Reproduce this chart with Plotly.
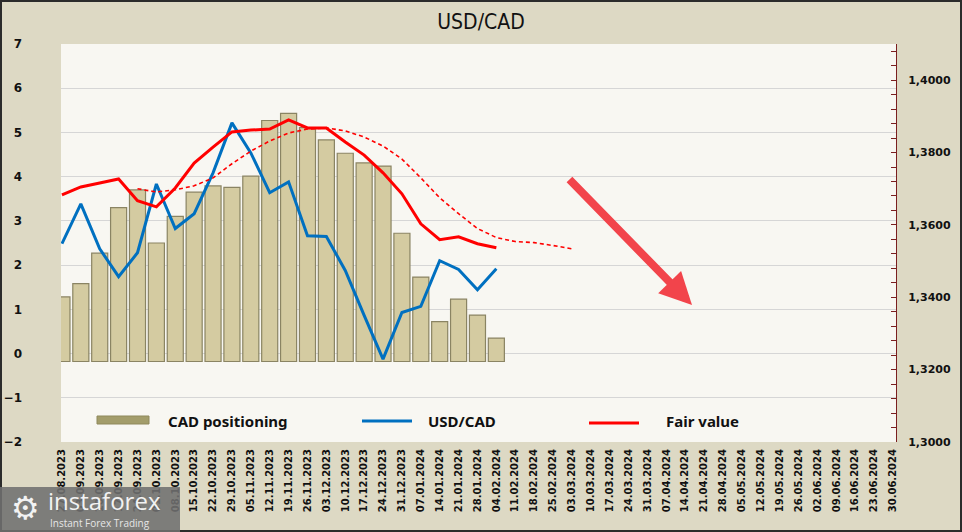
import plotly.graph_objects as go

dates = ['27.08.2023', '03.09.2023', '10.09.2023', '17.09.2023', '24.09.2023', '01.10.2023',
         '08.10.2023', '15.10.2023', '22.10.2023', '29.10.2023', '05.11.2023', '12.11.2023',
         '19.11.2023', '26.11.2023', '03.12.2023', '10.12.2023', '17.12.2023', '24.12.2023',
         '31.12.2023', '07.01.2024', '14.01.2024', '21.01.2024', '28.01.2024', '04.02.2024',
         '11.02.2024', '18.02.2024', '25.02.2024', '03.03.2024', '10.03.2024', '17.03.2024',
         '24.03.2024', '31.03.2024', '07.04.2024', '14.04.2024', '21.04.2024', '28.04.2024',
         '05.05.2024', '12.05.2024', '19.05.2024', '26.05.2024', '02.06.2024', '09.06.2024',
         '16.06.2024', '23.06.2024', '30.06.2024']

cad_positioning = [1.28, 1.58, 2.27, 3.30, 3.70, 2.50, 3.10, 3.65, 3.79, 3.76, 4.01, 5.27,
                   5.43, 5.11, 4.83, 4.53, 4.31, 4.24, 2.72, 1.73, 0.72, 1.23, 0.87, 0.35]

usdcad = [1.3548, 1.3658, 1.3534, 1.3457, 1.3523, 1.3713, 1.3590, 1.3631, 1.3744, 1.3882,
          1.3799, 1.3689, 1.3719, 1.3570, 1.3568, 1.3474, 1.3350, 1.3229, 1.3358, 1.3375,
          1.3501, 1.3477, 1.3421, 1.3479]

fair_value = [1.3683, 1.3705, 1.3716, 1.3727, 1.3667, 1.3650, 1.3702, 1.3771, 1.3815, 1.3857,
              1.3862, 1.3865, 1.3890, 1.3868, 1.3868, 1.3829, 1.3793, 1.3744, 1.3686, 1.3603,
              1.3559, 1.3567, 1.3548, 1.3537]

fair_trend_start = '24.09.2023'
fair_trend = [1.3700, 1.3691, 1.3697, 1.3708, 1.3730, 1.3769, 1.3804, 1.3832, 1.3854, 1.3865,
              1.3868, 1.3860, 1.3843, 1.3818, 1.3782, 1.3730, 1.3675, 1.3631, 1.3590, 1.3565,
              1.3554, 1.3551, 1.3543, 1.3534]

left_ticks = [-2, -1, 0, 1, 2, 3, 4, 5, 6, 7]
right_ticks = [1.30, 1.32, 1.34, 1.36, 1.38, 1.40]
right_ticktext = ['1,3000', '1,3200', '1,3400', '1,3600', '1,3800', '1,4000']

# ---- layout geometry (pixels) ----
W, H = 962, 532
ML, MR, MT, MB = 61, 66, 44, 90
PW, PH = W - ML - MR, H - MT - MB


def px(x):
    return (x - ML) / PW


def py(y):
    return (H - MB - y) / PH


BAR_BASE = -0.18
n = len(dates)
bar_y = [v - BAR_BASE for v in cad_positioning] + [None] * (n - len(cad_positioning))
usd_y = usdcad + [None] * (n - len(usdcad))
fv_y = fair_value + [None] * (n - len(fair_value))
s = dates.index(fair_trend_start)
tr_y = [None] * s + fair_trend + [None] * (n - s - len(fair_trend))

fig = go.Figure()
fig.add_trace(go.Bar(x=dates, y=bar_y, base=BAR_BASE, width=0.85,
                     marker=dict(color='#D4CBA1', line=dict(color='#8A8463', width=1.2)),
                     name='CAD positioning', showlegend=False))
fig.add_trace(go.Scatter(x=dates, y=usd_y, yaxis='y2', mode='lines',
                         line=dict(color='#0070C0', width=3), name='USD/CAD', showlegend=False))
fig.add_trace(go.Scatter(x=dates, y=tr_y, yaxis='y2', mode='lines',
                         line=dict(color='#FF0000', width=1.6, dash='4px,3px'),
                         name='Fair value trend', showlegend=False))
fig.add_trace(go.Scatter(x=dates, y=fv_y, yaxis='y2', mode='lines',
                         line=dict(color='#FF0000', width=3), name='Fair value', showlegend=False))

fig.update_layout(
    width=W, height=H,
    margin=dict(l=ML, r=MR, t=MT, b=MB, pad=0, autoexpand=False),
    paper_bgcolor='#DDD9C4',
    plot_bgcolor='#F8F7F2',
    title=dict(text='USD/CAD', x=0.5, xref='container', y=1 - 22 / H, yref='container',
               xanchor='center', yanchor='middle',
               font=dict(family='DejaVu Sans Condensed, DejaVu Sans', size=21, color='#111111')),
    xaxis=dict(type='category', categoryorder='array', categoryarray=dates,
               range=[-0.05, n - 1 + 0.16], tickangle=-90, showgrid=False, ticks='',
               tickfont=dict(family='DejaVu Sans', size=10, color='#111111', weight='bold'),
               ticklabelstandoff=4, zeroline=False, showline=False, automargin=False),
    yaxis=dict(range=[-2, 7], tickvals=left_ticks, showgrid=True, gridcolor='#D6D6D6',
               gridwidth=1, zeroline=False, showline=False, ticks='',
               tickfont=dict(family='DejaVu Sans', size=12, color='#111111', weight='bold'),
               ticklabelstandoff=38, automargin=False),
    yaxis2=dict(range=[1.30, 1.41], overlaying='y', side='right', tickvals=right_ticks,
                ticktext=right_ticktext, showgrid=False, zeroline=False, showline=True,
                linecolor='#7A1F1F', linewidth=1, ticks='inside', ticklen=5,
                tickcolor='#7A1F1F', tickwidth=1,
                minor=dict(dtick=0.004, tick0=1.30, ticks='inside', ticklen=5,
                           tickcolor='#7A1F1F', tickwidth=1, showgrid=False),
                tickfont=dict(family='DejaVu Sans', size=11, color='#111111', weight='bold'),
                ticklabelstandoff=9, automargin=False),
    bargap=0.15,
)

shapes = []
annotations = []

# outer frame
shapes.append(dict(type='rect', xref='paper', yref='paper', x0=px(1), x1=px(961), y0=py(531), y1=py(1),
                   line=dict(color='#2B2B2B', width=2), fillcolor='rgba(0,0,0,0)', layer='above'))

# manual legend
shapes.append(dict(type='rect', xref='paper', yref='paper', x0=px(97), x1=px(149), y0=py(424), y1=py(416),
                   line=dict(color='#8F895C', width=1), fillcolor='#A39D6B'))
annotations.append(dict(text='CAD positioning', xref='paper', yref='paper', x=px(166), y=py(421),
                        xanchor='left', yanchor='middle', showarrow=False,
                        font=dict(family='Noto Sans', size=15, color='#111111', weight='bold')))
shapes.append(dict(type='line', xref='paper', yref='paper', x0=px(362), x1=px(412), y0=py(421), y1=py(421),
                   line=dict(color='#0070C0', width=3)))
annotations.append(dict(text='USD/CAD', xref='paper', yref='paper', x=px(426), y=py(421),
                        xanchor='left', yanchor='middle', showarrow=False,
                        font=dict(family='Noto Sans', size=15, color='#111111', weight='bold')))
shapes.append(dict(type='line', xref='paper', yref='paper', x0=px(589), x1=px(639), y0=py(423), y1=py(423),
                   line=dict(color='#FF0000', width=3)))
annotations.append(dict(text='Fair value', xref='paper', yref='paper', x=px(664), y=py(421),
                        xanchor='left', yanchor='middle', showarrow=False,
                        font=dict(family='Noto Sans', size=15, color='#111111', weight='bold')))

# forecast arrow
annotations.append(dict(xref='paper', yref='paper', x=px(692), y=py(305), ax=-124, ay=-127,
                        showarrow=True, arrowhead=2, arrowsize=0.8, arrowwidth=8,
                        arrowcolor='#F2444B', text=''))

# watermark
shapes.append(dict(type='rect', xref='paper', yref='paper', x0=px(0), x1=px(180), y0=py(532), y1=py(487),
                   line=dict(width=0), fillcolor='rgba(112,112,112,0.88)', layer='above'))
annotations.append(dict(text='⚙', xref='paper', yref='paper', x=px(25), y=py(508),
                        xanchor='center', yanchor='middle', showarrow=False,
                        font=dict(family='DejaVu Sans', size=32, color='#F2F2F2')))
annotations.append(dict(text='instaforex', xref='paper', yref='paper', x=px(46), y=py(500),
                        xanchor='left', yanchor='middle', showarrow=False,
                        font=dict(family='Open Sans', size=24, color='#F2F2F2')))
annotations.append(dict(text='Instant Forex Trading', xref='paper', yref='paper', x=px(48), y=py(523),
                        xanchor='left', yanchor='middle', showarrow=False,
                        font=dict(family='Open Sans', size=10, color='#E6E6E6')))

fig.update_layout(shapes=shapes, annotations=annotations)
fig.write_html('out.html', config={'displayModeBar': False},
               post_script="document.body.style.margin='0px';document.body.style.overflow='hidden';")
